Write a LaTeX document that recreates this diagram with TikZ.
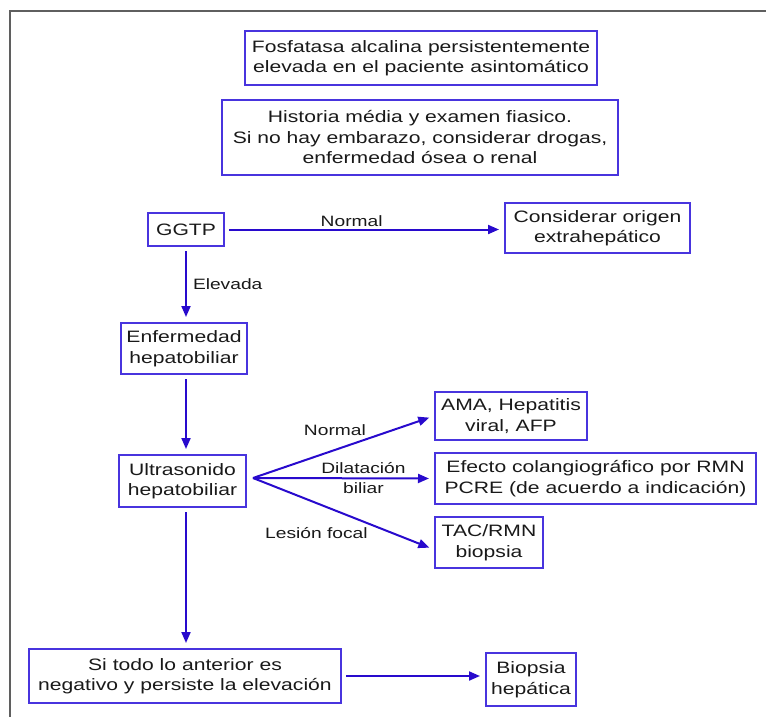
\documentclass[tikz,border=0pt]{standalone}
\usepackage{fontspec}
\setmainfont{Liberation Sans}[FakeStretch=1.28]
\usetikzlibrary{arrows.meta}
\definecolor{boxblue}{RGB}{72,52,222}
\definecolor{arrowblue}{RGB}{40,10,205}
\definecolor{framegray}{RGB}{95,95,95}
\definecolor{textgray}{RGB}{25,25,25}

\begin{document}
\begin{tikzpicture}[x=1pt, y=-1pt,
    font=\fontsize{16.5}{20.5}\selectfont,
    every node/.style={text=textgray},
    box/.style={draw=boxblue, line width=2pt, align=center, inner sep=2pt},
    arr/.style={draw=arrowblue, line width=2pt, -{Triangle[length=11pt,width=9pt]}, shorten <=4pt, shorten >=5pt},
    lab/.style={inner sep=2pt, align=center, font=\fontsize{15}{20}\selectfont}]
        \useasboundingbox (0,0) rectangle (766,717);
        \draw[framegray, line width=2.5pt] (10,717) |- (766,11);

        \node[box, minimum width=352pt, minimum height=54pt] (fosfa) at (421,58) {Fosfatasa alcalina persistentemente\\elevada en el paciente asintomático};
        \node[box, minimum width=396pt, minimum height=75pt] (hist) at (420,137.5) {Historia média y examen fiasico.\\Si no hay embarazo, considerar drogas,\\enfermedad ósea o renal};
        \node[box, minimum width=76pt, minimum height=33pt] (ggtp) at (186,229.5) {GGTP};
        \node[box, minimum width=185pt, minimum height=50pt] (cons) at (597.5,228) {Considerar origen\\extrahepático};
        \node[box, minimum width=126pt, minimum height=51pt] (enf) at (184,348.5) {Enfermedad\\hepatobiliar};
        \node[box, minimum width=127pt, minimum height=52pt] (ultra) at (182.5,481) {Ultrasonido\\hepatobiliar};
        \node[box, minimum width=152pt, minimum height=48pt] (ama) at (511,416) {AMA, Hepatitis\\viral, AFP};
        \node[box, minimum width=321pt, minimum height=51pt] (efecto) at (595.5,478.5) {Efecto colangiográfico por RMN\\PCRE (de acuerdo a indicación)};
        \node[box, minimum width=108pt, minimum height=51pt] (tac) at (489,542.5) {TAC/RMN\\biopsia};
        \node[box, minimum width=312pt, minimum height=54pt] (sitodo) at (185,676) {Si todo lo anterior es\\negativo y persiste la elevación};
        \node[box, minimum width=90pt, minimum height=53pt] (biopsia) at (531,679.5) {Biopsia\\hepática};

        \draw[arr] (ggtp.east) -- (ggtp.east -| cons.west) node[lab, above, pos=.454] {Normal};
        \draw[arr] (ggtp.south) -- (ggtp.south |- enf.north) node[lab, right, midway, xshift=4pt] {Elevada};
        \draw[arr] (ggtp.south |- enf.south) -- (ggtp.south |- ultra.north);
        \draw[arr] (ggtp.south |- ultra.south) -- (ggtp.south |- sitodo.north);
        \draw[arr] (sitodo.east) -- (sitodo.east -| biopsia.west);

        \coordinate (fan) at ([xshift=6pt, yshift=3pt]ultra.east);
        \draw[arr, shorten <=0pt] (fan) -- (ama.west) node[lab, anchor=south east, pos=.64] {Normal};
        \draw[arr, shorten <=0pt] (fan) -- (efecto.west) node[lab, pos=.61] {Dilatación\\biliar};
        \draw[arr, shorten <=0pt] (fan) -- ([yshift=-7pt]tac.west) node[lab, anchor=north east, pos=.65] {Lesión focal};
    \end{tikzpicture}
\end{document}
